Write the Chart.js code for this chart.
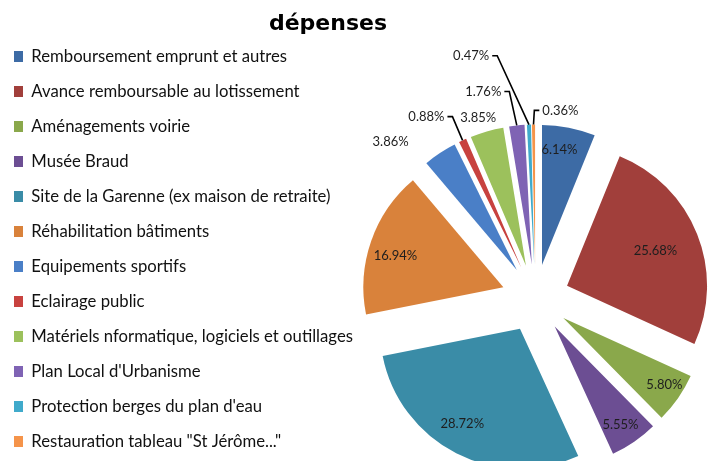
<!DOCTYPE html>
<html>
<head>
<meta charset="utf-8">
<script src="https://cdn.jsdelivr.net/npm/chart.js@4.4.1/dist/chart.umd.min.js"></script>
<style>
html,body{margin:0;padding:0;background:#fff;overflow:hidden;}
#wrap{position:relative;width:710px;height:461px;overflow:hidden;background:#fff;}
#c{position:absolute;left:0;top:0;}
</style>
</head>
<body>
<div id="wrap"><canvas id="c" width="708" height="567" style="width:708px;height:567px"></canvas></div>
<script>
// ---- data ----
const chartTitle = 'dépenses';
const categories = [
  'Remboursement emprunt et autres',
  'Avance remboursable au lotissement',
  'Aménagements voirie',
  'Musée Braud',
  'Site de la Garenne (ex maison de retraite)',
  'Réhabilitation bâtiments',
  'Equipements sportifs',
  'Eclairage public',
  'Matériels nformatique, logiciels et outillages',
  'Plan Local d\'Urbanisme',
  'Protection berges du plan d\'eau',
  'Restauration tableau "St Jérôme..."'
];
const values = [6.14, 25.68, 5.80, 5.55, 28.72, 16.94, 3.86, 0.88, 3.85, 1.76, 0.47, 0.36];

// ---- styles ----
const sliceColors = [
  '#3D6BA5', '#A13F3B', '#8AA84B', '#6C4E93', '#3A8CA7', '#D9823B',
  '#4A7FC7', '#C8423F', '#9CC15C', '#7F63B4', '#40AACB', '#F5944A'
];
const EXPLODE = 34;          // px each slice is pulled out
const PIE_RADIUS = 140;
// label placement: angular shift from slice bisector (deg) and distance as fraction of radius
const labelShift = [-1.9, -0.1, -1.3, 0.6, 3.1, -2.2, -9.4, -6.2, -1.3, -8.0, -12.7, 8.2];
const labelDist  = [1.078, 0.923, 1.107, 1.086, 1.04, 1.046, 1.526, 1.514, 1.356, 1.524, 1.793, 1.355];
const hasLeader  = [false, false, false, false, false, false, false, true, false, true, true, true];

const explodePlugin = {
  id: 'explode',
  beforeDatasetDraw(chart, args) {
    const ctx = chart.ctx;
    args.meta.data.forEach((arc) => {
      const p = arc.getProps(['startAngle', 'endAngle']);
      const mid = (p.startAngle + p.endAngle) / 2;
      ctx.save();
      ctx.translate(Math.cos(mid) * EXPLODE, Math.sin(mid) * EXPLODE);
      arc.draw(ctx, chart.chartArea);
      ctx.restore();
    });
    return false;
  }
};

const labelPlugin = {
  id: 'pctLabels',
  afterDraw(chart) {
    const ctx = chart.ctx;
    const meta = chart.getDatasetMeta(0);
    ctx.save();
    ctx.font = '13px Lato';
    ctx.textAlign = 'center';
    ctx.textBaseline = 'middle';
    ctx.fillStyle = '#1e1e1e';
    ctx.strokeStyle = '#000';
    ctx.lineWidth = 1.6;
    meta.data.forEach((arc, i) => {
      const p = arc.getProps(['x', 'y', 'startAngle', 'endAngle', 'outerRadius']);
      const mid = (p.startAngle + p.endAngle) / 2;
      const a = mid + labelShift[i] * Math.PI / 180;
      const r = p.outerRadius * labelDist[i];
      const lx = p.x + Math.cos(a) * r;
      const ly = p.y + Math.sin(a) * r;
      const text = values[i].toFixed(2) + '%';
      if (hasLeader[i]) {
        const tx = p.x + Math.cos(mid) * (p.outerRadius + EXPLODE);
        const ty = p.y + Math.sin(mid) * (p.outerRadius + EXPLODE);
        const hw = ctx.measureText(text).width / 2 + 3;
        const side = tx >= lx ? 1 : -1;
        const sx = lx + side * hw;
        ctx.beginPath();
        ctx.moveTo(sx, ly);
        ctx.lineTo(sx + side * 5, ly);
        ctx.lineTo(tx, ty);
        ctx.stroke();
      }
      ctx.fillText(text, lx, ly);
    });
    // title
    ctx.font = 'bold 22px "DejaVu Sans"';
    ctx.fillStyle = '#000';
    ctx.textBaseline = 'alphabetic';
    ctx.fillText(chartTitle, 328, 30);
    ctx.restore();
  }
};

new Chart(document.getElementById('c'), {
  type: 'pie',
  data: {
    labels: categories,
    datasets: [{
      data: values,
      backgroundColor: sliceColors,
      borderWidth: 0,
      hoverOffset: 0,
      radius: PIE_RADIUS
    }]
  },
  options: {
    responsive: false,
    animation: false,
    events: [],
    layout: { padding: { left: -4.3, top: 29.85, right: 0, bottom: 0 } },
    plugins: {
      legend: {
        position: 'left',
        align: 'start',
        maxWidth: 420,
        labels: {
          boxWidth: 9,
          boxHeight: 11,
          padding: 18.3,
          color: '#111',
          font: { family: 'Lato', size: 16.7 }
        }
      },
      tooltip: { enabled: false },
      title: { display: false }
    }
  },
  plugins: [explodePlugin, labelPlugin]
});
</script>
</body>
</html>
